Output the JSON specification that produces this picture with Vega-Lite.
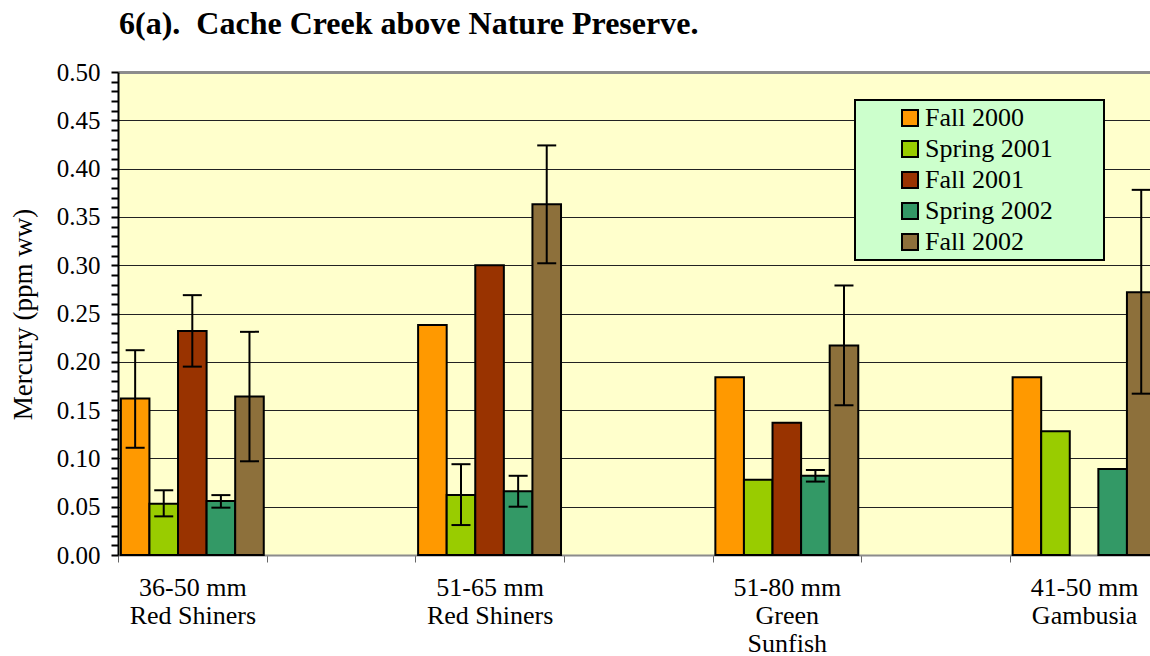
{
  "$schema": "https://vega.github.io/schema/vega-lite/v6.json",
  "width": 1032,
  "height": 483,
  "autosize": {"type": "none"},
  "padding": {"left": 118, "top": 72, "right": 0, "bottom": 101},
  "background": "white",
  "title": {
    "text": "6(a).\u00a0 Cache Creek above Nature Preserve.",
    "anchor": "start",
    "frame": "group",
    "font": "Liberation Serif",
    "fontSize": 32,
    "fontWeight": "bold",
    "color": "black",
    "dx": 1,
    "offset": -6,
    "baseline": "alphabetic"
  },
  "config": {
    "view": {"fill": "#FFFFCC", "stroke": null},
    "legend": {"strokeWidth": 2},
    "axis": {"labelOverlap": false},
    "axisY": {"labelOverlap": false, "labelBound": false}
  },
  "data": {
    "values": [
      {"group": "36-50 mm|Red Shiners", "season": "Fall 2000", "value": 0.162, "low": 0.111, "high": 0.212},
      {"group": "36-50 mm|Red Shiners", "season": "Spring 2001", "value": 0.053, "low": 0.040, "high": 0.067},
      {"group": "36-50 mm|Red Shiners", "season": "Fall 2001", "value": 0.232, "low": 0.195, "high": 0.269},
      {"group": "36-50 mm|Red Shiners", "season": "Spring 2002", "value": 0.056, "low": 0.049, "high": 0.062},
      {"group": "36-50 mm|Red Shiners", "season": "Fall 2002", "value": 0.164, "low": 0.097, "high": 0.231},
      {"group": "51-65 mm|Red Shiners", "season": "Fall 2000", "value": 0.238, "low": null, "high": null},
      {"group": "51-65 mm|Red Shiners", "season": "Spring 2001", "value": 0.062, "low": 0.031, "high": 0.094},
      {"group": "51-65 mm|Red Shiners", "season": "Fall 2001", "value": 0.300, "low": null, "high": null},
      {"group": "51-65 mm|Red Shiners", "season": "Spring 2002", "value": 0.066, "low": 0.050, "high": 0.082},
      {"group": "51-65 mm|Red Shiners", "season": "Fall 2002", "value": 0.363, "low": 0.302, "high": 0.424},
      {"group": "51-80 mm|Green|Sunfish", "season": "Fall 2000", "value": 0.184, "low": null, "high": null},
      {"group": "51-80 mm|Green|Sunfish", "season": "Spring 2001", "value": 0.078, "low": null, "high": null},
      {"group": "51-80 mm|Green|Sunfish", "season": "Fall 2001", "value": 0.137, "low": null, "high": null},
      {"group": "51-80 mm|Green|Sunfish", "season": "Spring 2002", "value": 0.082, "low": 0.076, "high": 0.088},
      {"group": "51-80 mm|Green|Sunfish", "season": "Fall 2002", "value": 0.217, "low": 0.155, "high": 0.279},
      {"group": "41-50 mm|Gambusia", "season": "Fall 2000", "value": 0.184, "low": null, "high": null},
      {"group": "41-50 mm|Gambusia", "season": "Spring 2001", "value": 0.128, "low": null, "high": null},
      {"group": "41-50 mm|Gambusia", "season": "Spring 2002", "value": 0.089, "low": null, "high": null},
      {"group": "41-50 mm|Gambusia", "season": "Fall 2002", "value": 0.272, "low": 0.167, "high": 0.378}
    ]
  },
  "encoding": {
    "x": {
      "field": "group",
      "type": "nominal",
      "scale": {
        "domain": ["36-50 mm|Red Shiners", "_1", "51-65 mm|Red Shiners", "_2", "51-80 mm|Green|Sunfish", "_3", "41-50 mm|Gambusia", "_4"],
        "range": [0, 1189],
        "paddingInner": 0,
        "paddingOuter": 0
      },
      "axis": {
        "title": null,
        "labelAngle": 0,
        "labelExpr": "slice(datum.label, 0, 1) == '_' ? '' : split(datum.label, '|')",
        "labelFont": "Liberation Serif",
        "labelFontSize": 26,
        "labelLineHeight": 28,
        "labelColor": "black",
        "labelPadding": 12,
        "labelOverlap": false,
        "labelBound": false,
        "labelLimit": 300,
        "tickBand": "extent",
        "tickSize": 7,
        "tickColor": "#666666",
        "tickWidth": 1,
        "domainColor": "#8c8c8c",
        "domainWidth": 2,
        "grid": false
      }
    },
    "xOffset": {
      "field": "season",
      "type": "nominal",
      "scale": {
        "domain": ["Fall 2000", "Spring 2001", "Fall 2001", "Spring 2002", "Fall 2002"],
        "paddingInner": 0,
        "paddingOuter": 0.1
      }
    }
  },
  "layer": [
    {
      "mark": {"type": "bar", "stroke": "black", "strokeWidth": 2, "opacity": 1},
      "encoding": {
        "y": {
          "field": "value",
          "type": "quantitative",
          "scale": {"domain": [0, 0.5], "nice": false, "zero": true},
          "axis": {
            "title": "Mercury (ppm ww)",
            "titleFont": "Liberation Serif",
            "titleFontSize": 27,
            "titleFontWeight": "normal",
            "titleColor": "black",
            "titleAngle": -90,
            "titleAlign": "center",
            "titleBaseline": "alphabetic",
            "titleX": -87,
            "titleY": 242,
            "tickCount": 60,
            "values": [0, 0.01, 0.02, 0.03, 0.04, 0.05, 0.06, 0.07, 0.08, 0.09, 0.1, 0.11, 0.12, 0.13, 0.14, 0.15, 0.16, 0.17, 0.18, 0.19, 0.2, 0.21, 0.22, 0.23, 0.24, 0.25, 0.26, 0.27, 0.28, 0.29, 0.3, 0.31, 0.32, 0.33, 0.34, 0.35, 0.36, 0.37, 0.38, 0.39, 0.4, 0.41, 0.42, 0.43, 0.44, 0.45, 0.46, 0.47, 0.48, 0.49, 0.5],
            "labelExpr": "round(datum.value * 100) % 5 === 0 ? format(datum.value, '.2f') : ''",
            "labelOverlap": false,
            "labelBound": false,
            "labelFont": "Liberation Serif",
            "labelFontSize": 25,
            "labelColor": "black",
            "labelPadding": 11,
            "tickSize": 7,
            "tickColor": "black",
            "tickWidth": 2,
            "domainColor": "black",
            "domainWidth": 2,
            "grid": true,
            "gridColor": {"condition": {"test": "datum.value > 0.495", "value": "#8c8c8c"}, "value": "#222222"},
            "gridWidth": {"condition": {"test": "datum.value > 0.495", "value": 3}, "value": 1},
            "gridOpacity": {"condition": {"test": "round(datum.value * 100) % 5 === 0", "value": 1}, "value": 0}
          }
        },
        "color": {
          "field": "season",
          "type": "nominal",
          "scale": {
            "domain": ["Fall 2000", "Spring 2001", "Fall 2001", "Spring 2002", "Fall 2002"],
            "range": ["#FF9900", "#99CC00", "#993300", "#339966", "#8D703B"]
          },
          "legend": {
            "title": null,
            "orient": "none",
            "legendX": 737,
            "legendY": 28,
            "fillColor": "#CCFFCC",
            "strokeColor": "black",
            "padding": 5,
            "symbolType": "square",
            "symbolSize": 256,
            "symbolStrokeColor": "black",
            "symbolStrokeWidth": 2,
            "symbolOpacity": 1,
            "symbolOffset": 37,
            "labelFont": "Liberation Serif",
            "labelFontSize": 26,
            "labelColor": "black",
            "labelOffset": 2,
            "labelLimit": 400,
            "labelExpr": "datum.label + '\u00a0\u00a0\u00a0\u00a0\u00a0\u00a0\u00a0\u200b'",
            "rowPadding": 5
          }
        }
      }
    },
    {
      "transform": [{"filter": "datum.low != null"}],
      "mark": {"type": "rule", "color": "black", "strokeWidth": 2},
      "encoding": {
        "y": {"field": "low", "type": "quantitative"},
        "y2": {"field": "high"}
      }
    },
    {
      "transform": [{"filter": "datum.low != null"}],
      "mark": {"type": "tick", "color": "black", "size": 19, "thickness": 2, "opacity": 1},
      "encoding": {
        "y": {"field": "low", "type": "quantitative"}
      }
    },
    {
      "transform": [{"filter": "datum.high != null"}],
      "mark": {"type": "tick", "color": "black", "size": 19, "thickness": 2, "opacity": 1},
      "encoding": {
        "y": {"field": "high", "type": "quantitative"}
      }
    }
  ]
}
